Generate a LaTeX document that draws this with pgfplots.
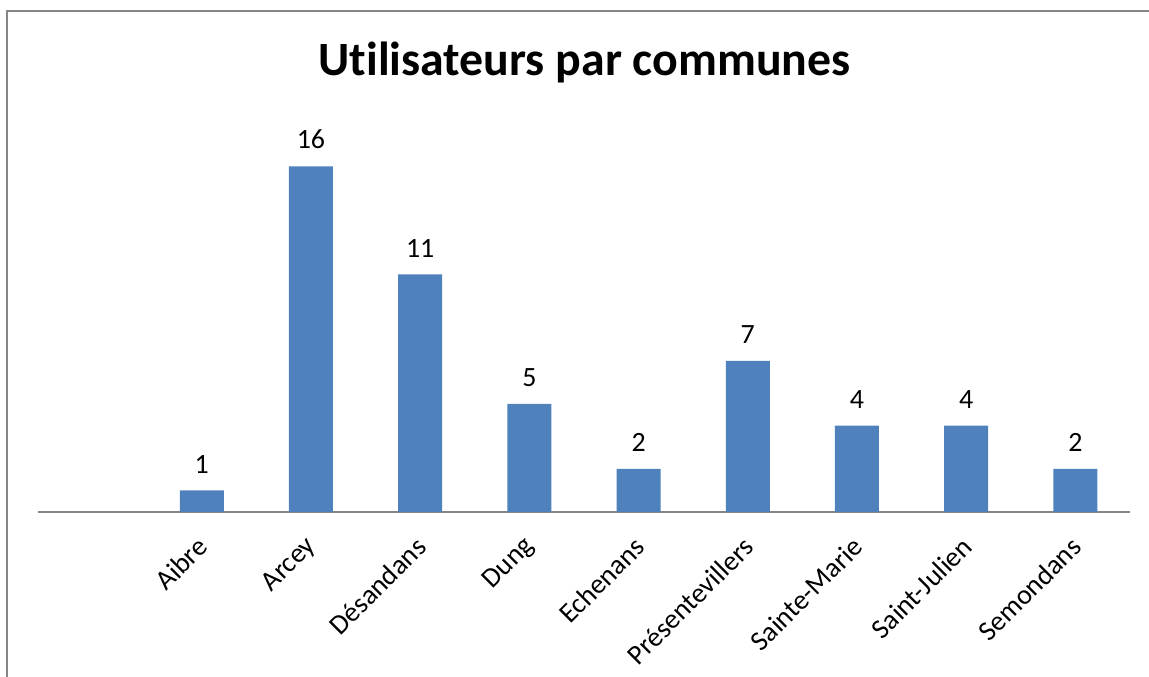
\documentclass[border=0pt]{standalone}
\usepackage{pgfplots}
\pgfplotsset{compat=1.18}
\usepackage{fontspec}
\setmainfont{Carlito}[Ligatures=NoCommon]
\definecolor{barblue}{HTML}{4F81BD}
\definecolor{framegray}{HTML}{868686}
\begin{document}
\begin{tikzpicture}[x=1bp,y=1bp]
\useasboundingbox (0,0) rectangle (1149,677);
\draw[framegray, line width=2.2bp] (7,0) -- (7,666) -- (1149,666);
\node[font=\fontsize{48}{56}\selectfont\bfseries, anchor=center] at (584.5,615) {Utilisateurs par communes};
\begin{axis}[
  at={(38bp,165bp)}, anchor=south west,
  scale only axis, width=1092bp, height=388.8bp,
  xmin=-0.5, xmax=9.5, ymin=0, ymax=18,
  axis x line*=bottom, axis y line=none,
  x axis line style={-, draw=framegray, line width=1.8bp},
  ybar, bar width=44bp,
  xtick={1,...,9},
  xticklabels={Aibre,Arcey,Désandans,Dung,Echenans,Présentevillers,Sainte-Marie,Saint-Julien,Semondans},
  xtick style={draw=none},
  xticklabel style={yshift=-26bp, xshift=1bp, rotate=45, anchor=east, inner sep=0pt, font=\fontsize{28}{34}\selectfont},
  ytick=\empty,
  /pgf/number format/assume math mode=true,
  nodes near coords,
  every node near coord/.append style={font=\fontsize{28}{34}\selectfont, anchor=south, inner sep=0pt, yshift=17bp, black},
  clip=false,
]
\addplot[fill=barblue, draw=none] coordinates {(1,1) (2,16) (3,11) (4,5) (5,2) (6,7) (7,4) (8,4) (9,2)};
\end{axis}
\end{tikzpicture}
\end{document}
